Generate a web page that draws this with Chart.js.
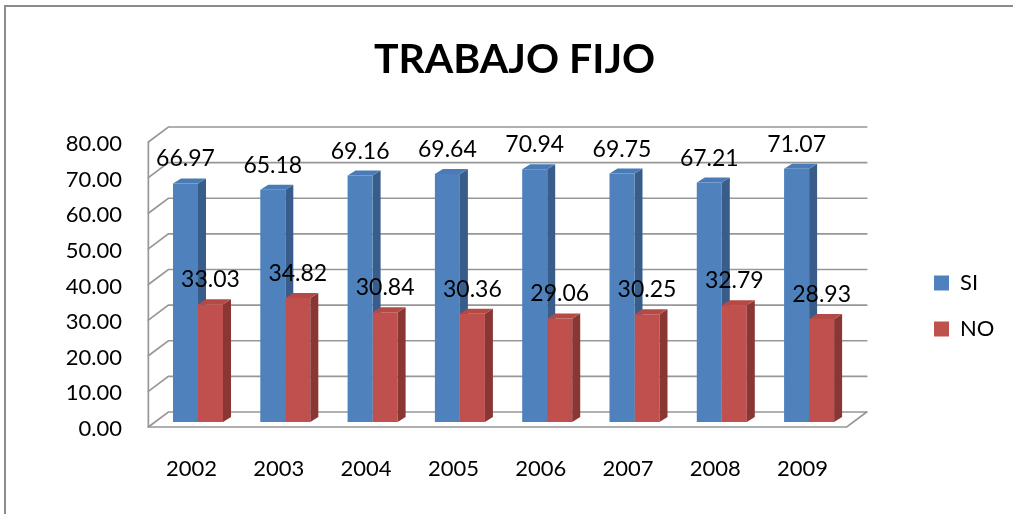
<!DOCTYPE html>
<html><head><meta charset="utf-8">
<script src="https://cdn.jsdelivr.net/npm/chart.js@4.4.1/dist/chart.umd.min.js"></script>
<style>html,body{margin:0;padding:0;background:#fff;overflow:hidden}canvas{display:block}</style>
</head><body>
<canvas id="c" width="1013" height="514"></canvas>
<script>
// ---- data ----
const years = ['2002','2003','2004','2005','2006','2007','2008','2009'];
const siValues = [66.97, 65.18, 69.16, 69.64, 70.94, 69.75, 67.21, 71.07];
const noValues = [33.03, 34.82, 30.84, 30.36, 29.06, 30.25, 32.79, 28.93];
const seriesNames = ['SI', 'NO'];
const yMin = 0, yMax = 80, yStep = 10;
const chartTitle = 'TRABAJO FIJO';

// ---- style ----
const FONT = 'Lato';
const COLORS = {
  front: ['#4F81BD', '#C0504D'],
  side:  ['#385D8A', '#8A3734'],
  top:   ['#4A7BB7', '#B54946']
};
const FRONT = {dx: -6, dy: 5};   // front plane offset from bar plane
const BACK  = {dx: 14, dy: -10}; // back wall offset from bar plane
const DEPTH = {dx: 8, dy: -5};   // bar depth
const GRID = '#979797';

function barFaces(ctx, meta, di) {
  meta.data.forEach(el => {
    const p = el.getProps(['x','y','base','width'], true);
    const l = p.x - p.width / 2, r = p.x + p.width / 2;
    ctx.fillStyle = COLORS.side[di];
    ctx.beginPath();
    ctx.moveTo(r, p.y); ctx.lineTo(r + DEPTH.dx, p.y + DEPTH.dy);
    ctx.lineTo(r + DEPTH.dx, p.base + DEPTH.dy); ctx.lineTo(r, p.base);
    ctx.closePath(); ctx.fill();
    ctx.fillStyle = COLORS.top[di];
    ctx.beginPath();
    ctx.moveTo(l, p.y); ctx.lineTo(r, p.y);
    ctx.lineTo(r + DEPTH.dx, p.y + DEPTH.dy); ctx.lineTo(l + DEPTH.dx, p.y + DEPTH.dy);
    ctx.closePath(); ctx.fill();
  });
}

const frame3d = {
  id: 'frame3d',
  beforeDraw(chart) {
    const ctx = chart.ctx;
    ctx.save();
    ctx.strokeStyle = '#8c8c8c'; ctx.lineWidth = 2;
    ctx.strokeRect(5, 6, 1200, 700);
    ctx.restore();
  },
  afterLayout(chart) {
    const lg = chart.legend;
    lg.left = 934 - lg.options.labels.padding; lg.right = 1013; lg.width = lg.right - lg.left;
    lg.top = 248; lg.bottom = 420; lg.height = lg.bottom - lg.top;
    const tb = chart.titleBlock;
    tb.left = 16; tb.right = 1013; tb.width = tb.right - tb.left;
  },
  beforeDatasetsDraw(chart) {
    const ctx = chart.ctx, ys = chart.scales.y, ca = chart.chartArea;
    ctx.save();
    ctx.strokeStyle = GRID; ctx.lineWidth = 1.7; ctx.lineCap = 'round';
    ys.ticks.forEach(t => {
      const y = ys.getPixelForValue(t.value);
      ctx.beginPath();
      ctx.moveTo(ca.left + FRONT.dx, y + FRONT.dy);
      ctx.lineTo(ca.left + BACK.dx, y + BACK.dy);
      ctx.lineTo(ca.right + BACK.dx, y + BACK.dy);
      ctx.stroke();
    });
    const yt = ys.getPixelForValue(yMax), yb = ys.getPixelForValue(yMin);
    ctx.beginPath();
    ctx.moveTo(ca.left + FRONT.dx, yt + FRONT.dy);
    ctx.lineTo(ca.left + FRONT.dx, yb + FRONT.dy);
    ctx.lineTo(ca.right + FRONT.dx, yb + FRONT.dy);
    ctx.lineTo(ca.right + BACK.dx, yb + BACK.dy);
    ctx.stroke();
    barFaces(ctx, chart.getDatasetMeta(0), 0);
    ctx.restore();
  },
  afterDatasetDraw(chart, args) {
    if (args.index === 1) {
      chart.ctx.save();
      barFaces(chart.ctx, args.meta, 1);
      chart.ctx.restore();
    }
  },
  afterDatasetsDraw(chart) {
    const ctx = chart.ctx;
    ctx.save();
    ctx.font = '23px ' + FONT; ctx.fillStyle = '#000';
    ctx.textAlign = 'center'; ctx.textBaseline = 'alphabetic';
    chart.data.datasets.forEach((ds, di) => {
      chart.getDatasetMeta(di).data.forEach((el, i) => {
        const p = el.getProps(['x','y'], true);
        ctx.fillText(ds.data[i].toFixed(2), p.x, p.y - 17);
      });
    });
    ctx.restore();
  }
};

function build() {
  new Chart(document.getElementById('c'), {
    type: 'bar',
    data: {
      labels: years,
      datasets: [
        {label: seriesNames[0], data: siValues, backgroundColor: COLORS.front[0], borderWidth: 0},
        {label: seriesNames[1], data: noValues, backgroundColor: COLORS.front[1], borderWidth: 0}
      ]
    },
    options: {
      responsive: false, animation: false, devicePixelRatio: 1,
      layout: {padding: {top: 0, left: 0, right: 100.25, bottom: 0}},
      datasets: {bar: {barPercentage: 1, categoryPercentage: 0.573}},
      scales: {
        x: {
          grid: {display: false, drawTicks: false}, border: {display: false},
          ticks: {font: {family: FONT, size: 22}, color: '#000', padding: 34, labelOffset: -6.5, maxRotation: 0, autoSkip: false},
          afterFit: s => { s.height = 92; }
        },
        y: {
          min: yMin, max: yMax,
          grid: {display: false, drawTicks: false}, border: {display: false},
          ticks: {stepSize: yStep, font: {family: FONT, size: 22}, color: '#000', padding: 32.35, labelOffset: 7,
                  callback: v => Number(v).toFixed(2)},
          afterFit: s => { s.width = 154.35; }
        }
      },
      plugins: {
        title: {display: true, text: chartTitle, color: '#000',
                font: {family: FONT, size: 41, weight: 'bold', lineHeight: 1.2},
                padding: {top: 35, bottom: 52.8}},
        legend: {position: 'right', align: 'start', maxWidth: 60,
                 labels: {font: {family: FONT, size: 22}, color: '#000', boxWidth: 15, boxHeight: 15, padding: 24}},
        tooltip: {enabled: false}
      }
    },
    plugins: [frame3d]
  });
}
Promise.all([document.fonts.load('22px Lato'), document.fonts.load('bold 41px Lato')]).then(build, build);
</script>
</body></html>
